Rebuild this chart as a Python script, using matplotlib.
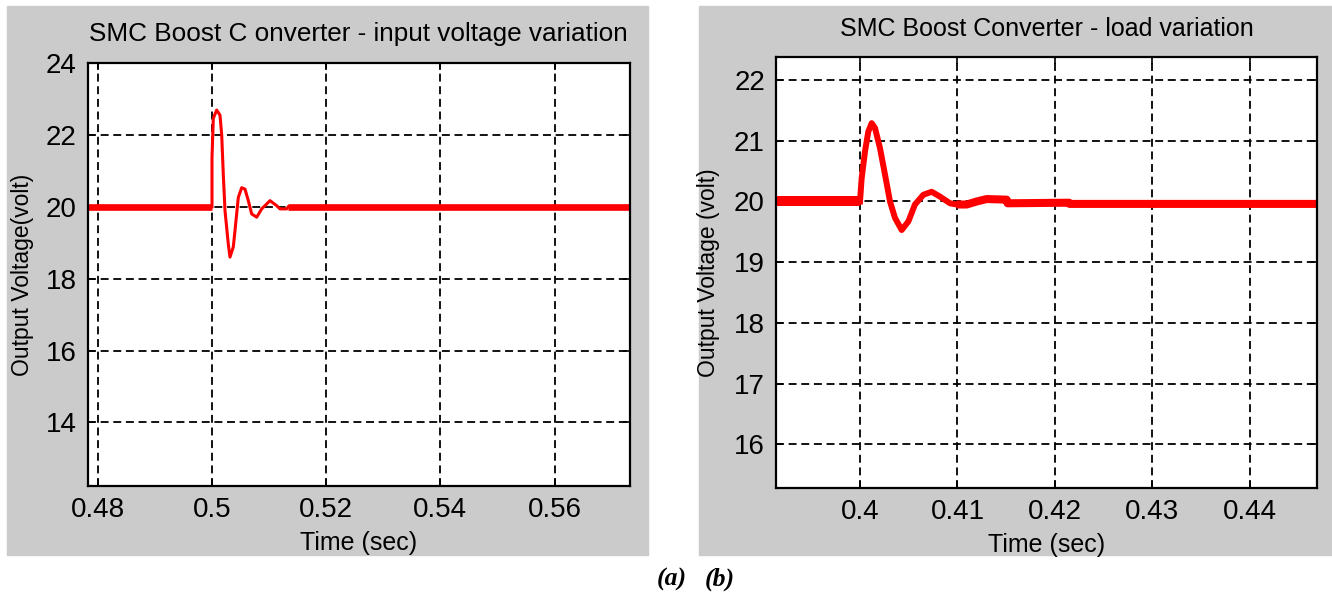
import matplotlib
matplotlib.use("Agg")
import matplotlib.pyplot as plt
from matplotlib.patches import Rectangle

plt.rcParams['font.family'] = ['Liberation Sans', 'DejaVu Sans']

# (a) input voltage variation: output voltage transient
t_a = [0.4782, 0.5000, 0.5000, 0.50023, 0.50082, 0.5014, 0.5017, 0.50198,
       0.50228, 0.50285, 0.50315, 0.50373, 0.50403, 0.50461, 0.5052, 0.50578,
       0.50636, 0.50695, 0.50783, 0.5087, 0.51016, 0.51133, 0.51191, 0.51308,
       0.51336, 0.5733]
v_a = [20.0, 20.0, 21.36, 22.46, 22.69, 22.55, 22.0, 20.9,
       19.89, 18.97, 18.6, 18.88, 19.34, 20.26, 20.53, 20.49,
       20.17, 19.8, 19.71, 19.94, 20.17, 20.03, 19.94, 19.94,
       20.0, 20.0]

# (b) load variation: output voltage transient
t_b = [0.3913, 0.4000, 0.40017, 0.40051, 0.40085, 0.4012, 0.40154, 0.40205,
       0.40257, 0.40308, 0.40359, 0.40428, 0.40496, 0.40564, 0.4065, 0.40735,
       0.40821, 0.40924, 0.40992, 0.41095, 0.41198, 0.413, 0.41505, 0.41515,
       0.42145, 0.42150, 0.4470]
v_b = [20.0, 20.0, 20.38, 20.82, 21.15, 21.29, 21.21, 20.88,
       20.44, 20.0, 19.73, 19.53, 19.67, 19.95, 20.11, 20.16,
       20.08, 19.97, 19.95, 19.95, 20.0, 20.04, 20.03, 19.97,
       19.98, 19.96, 19.96]

xticks_a = [0.48, 0.5, 0.52, 0.54, 0.56]
xlabels_a = ['0.48', '0.5', '0.52', '0.54', '0.56']
yticks_a = [14, 16, 18, 20, 22, 24]
xticks_b = [0.40, 0.41, 0.42, 0.43, 0.44]
xlabels_b = ['0.4', '0.41', '0.42', '0.43', '0.44']
yticks_b = [16, 17, 18, 19, 20, 21, 22]

W, H = 1332, 594
fig = plt.figure(figsize=(W / 100, H / 100), dpi=100)
fig.patch.set_facecolor('white')

# gray figure windows behind each plot
gray = '#cbcbcb'
for x0, w in [(7, 641), (699, 633)]:
    fig.add_artist(Rectangle((x0 / W, 1 - 555 / H), w / W, 549 / H,
                             transform=fig.transFigure, color=gray, zorder=-5))


def style_axes(ax, xt, xl, yt):
    ax.set_facecolor('white')
    ax.set_zorder(2)
    ax.set_xticks(xt)
    ax.set_xticklabels(xl)
    ax.set_yticks(yt)
    ax.tick_params(direction='in', length=5, width=1.2, labelsize=20,
                   top=True, right=True, pad=8)
    ax.grid(True, color='black', linestyle=(0, (4.4, 2.6)), linewidth=1.3)
    for s in ax.spines.values():
        s.set_linewidth(1.6)
        s.set_color('black')


# left panel
ax1 = fig.add_axes([87.5 / W, 1 - 486 / H, 542.5 / W, 423 / H])
ax1.plot(t_a[:2], v_a[:2], color='red', lw=4.8, solid_capstyle='butt')
ax1.plot(t_a[1:-1], v_a[1:-1], color='red', lw=2.2)
ax1.plot(t_a[-2:], v_a[-2:], color='red', lw=4.8, solid_capstyle='butt')
ax1.set_xlim(0.4782, 0.5732)
ax1.set_ylim(12.23, 24)
style_axes(ax1, xticks_a, xlabels_a, yticks_a)
ax1.set_title('SMC Boost C onverter - input voltage variation', fontsize=18.8, pad=16)
ax1.set_xlabel('Time (sec)', fontsize=18, labelpad=6)
ax1.set_ylabel('Output Voltage(volt)', fontsize=16.5, labelpad=8)

# right panel
ax2 = fig.add_axes([776 / W, 1 - 488 / H, 541 / W, 431 / H])
ax2.plot(t_b[:2], v_b[:2], color='red', lw=7.2, solid_capstyle='butt')
ax2.plot(t_b[1:19], v_b[1:19], color='red', lw=4.3)
ax2.plot(t_b[18:], v_b[18:], color='red', lw=5.8, solid_capstyle='butt')
ax2.set_xlim(0.39138, 0.4469)
ax2.set_ylim(15.28, 22.38)
style_axes(ax2, xticks_b, xlabels_b, yticks_b)
ax2.set_title('SMC Boost Converter - load variation', fontsize=18, pad=15)
ax2.set_xlabel('Time (sec)', fontsize=18, labelpad=6)
ax2.set_ylabel('Output Voltage (volt)', fontsize=16.5, labelpad=10)

fig.text(672 / W, 1 - 579 / H, '(a)', fontsize=18.5, family='Liberation Serif',
         style='italic', weight='bold', ha='center', va='center')
fig.text(720 / W, 1 - 579 / H, '(b)', fontsize=18.5, family='Liberation Serif',
         style='italic', weight='bold', ha='center', va='center')

fig.savefig('out.png', dpi=100)
